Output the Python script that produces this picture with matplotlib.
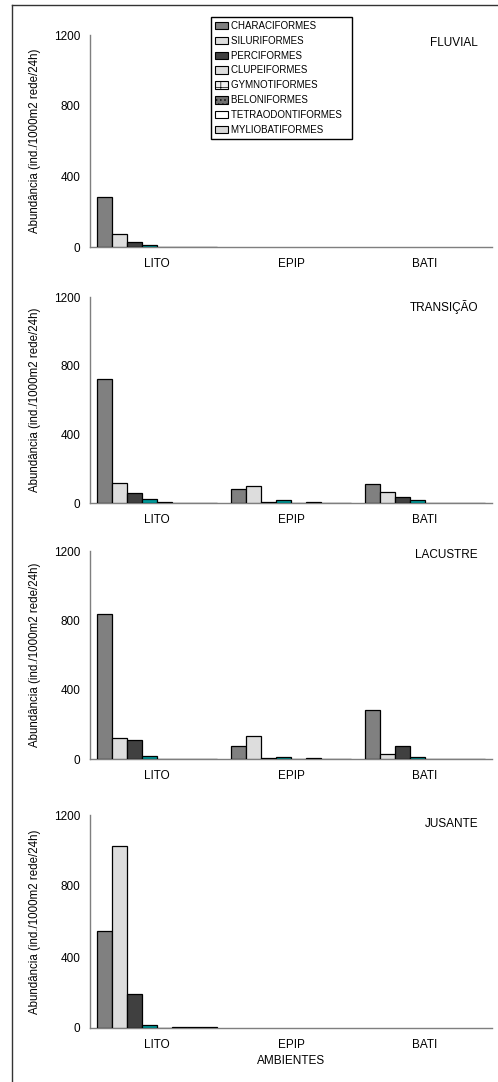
import numpy as np
import matplotlib
matplotlib.use("Agg")
import matplotlib.pyplot as plt
from matplotlib.patches import Patch
from matplotlib.lines import Line2D

plt.rcParams['font.family'] = ['Liberation Sans', 'DejaVu Sans']
plt.rcParams['hatch.linewidth'] = 0.5

ambientes = ["LITO", "EPIP", "BATI"]
ordens = ["CHARACIFORMES", "SILURIFORMES", "PERCIFORMES", "CLUPEIFORMES",
          "GYMNOTIFORMES", "BELONIFORMES", "TETRAODONTIFORMES", "MYLIOBATIFORMES"]
zonas = ["FLUVIAL", "TRANSIÇÃO", "LACUSTRE", "JUSANTE"]

# abundance per order (rows: LITO, EPIP, BATI); None = no sampling
fluvial = [[285, 72, 30, 10, 2, 0, 0, 0],
           None,
           None]
transicao = [[720, 116, 56, 23, 5, 0, 0, 0],
             [81, 97, 3, 19, 0, 4, 0, 0],
             [112, 62, 37, 19, 0, 0, 0, 0]]
lacustre = [[835, 121, 108, 15, 0, 0, 0, 0],
            [77, 135, 4, 13, 0, 3, 0, 0],
            [283, 31, 73, 13, 0, 0, 0, 0]]
jusante = [[547, 1026, 193, 19, 2, 7, 3, 3],
           None,
           None]
dados = [fluvial, transicao, lacustre, jusante]

cores_barras = ["#808080", "#dddddd", "#404040", "#009999",
                "#eeeeee", "#707070", "#ffffff", "#d8d8d8"]
cores_legenda = ["#808080", "#dddddd", "#404040", "#dddddd",
                 "#eeeeee", "#707070", "#ffffff", "#d8d8d8"]
hachuras = [None, None, None, None, "++", "....", None, None]

W, H = 498, 1082
fig = plt.figure(figsize=(W / 100, H / 100), dpi=100)

# axes frames in pixels: (top of 1200, zero line), and title offset below top
paineis = [(35, 247), (297, 503), (551, 759), (815, 1028)]
titulo_dy = [8, 10, 4, 9]
x0, x1 = 90, 492

largura = 0.112
n = len(ordens)
for k, (zona, tabela, (ytop, ybot)) in enumerate(zip(zonas, dados, paineis)):
    ax = fig.add_axes([x0 / W, 1 - ybot / H, (x1 - x0) / W, (ybot - ytop) / H])
    for i in range(n):
        for g, linha in enumerate(tabela):
            if linha is None:
                continue
            ax.bar(g + (i - (n - 1) / 2) * largura, linha[i], width=largura,
                   color=cores_barras[i], edgecolor="black", linewidth=0.9,
                   hatch=hachuras[i], zorder=3)
    ax.set_xlim(-0.5, 2.5)
    ax.set_ylim(0, 1200)
    ax.set_yticks([0, 400, 800, 1200])
    ax.set_xticks(range(3))
    ax.set_xticklabels(ambientes)
    ax.tick_params(length=0, labelsize=8.5, pad=7)
    ax.tick_params(axis="x", pad=8)
    for s in ["top", "right"]:
        ax.spines[s].set_visible(False)
    for s in ["left", "bottom"]:
        ax.spines[s].set_color("#7f7f7f")
        ax.spines[s].set_linewidth(1.0)
        ax.spines[s].set_zorder(1)
    ax.set_ylabel("Abundância (ind./1000m2 rede/24h)", fontsize=8.3, labelpad=9)
    ax.text(1 - 14 / (x1 - x0), 1 - titulo_dy[k] / (ybot - ytop), zona,
            transform=ax.transAxes, ha="right", va="center", fontsize=8.5)
    if k == 3:
        ax.set_xlabel("AMBIENTES", fontsize=8.5, labelpad=3)

handles = [Patch(facecolor=c, edgecolor="black", linewidth=0.8, hatch=h)
           for c, h in zip(cores_legenda, hachuras)]
leg = fig.legend(handles, [o + "  " for o in ordens], loc="upper left",
                 bbox_to_anchor=(211 / W, 1 - 17 / H), bbox_transform=fig.transFigure,
                 fontsize=7, frameon=True, fancybox=False, framealpha=1,
                 edgecolor="black", borderaxespad=0, handlelength=1.3,
                 handleheight=0.8, handletextpad=0.4, labelspacing=0.5,
                 borderpad=0.4)
leg.get_frame().set_linewidth(1.0)

# outer frame: top and left edges
fig.add_artist(Line2D([12 / W, 1], [1 - 5 / H, 1 - 5 / H], color="#333333",
                      linewidth=1.0, transform=fig.transFigure))
fig.add_artist(Line2D([12 / W, 12 / W], [0, 1 - 5 / H], color="#333333",
                      linewidth=1.0, transform=fig.transFigure))

fig.savefig("out.png", dpi=100)
